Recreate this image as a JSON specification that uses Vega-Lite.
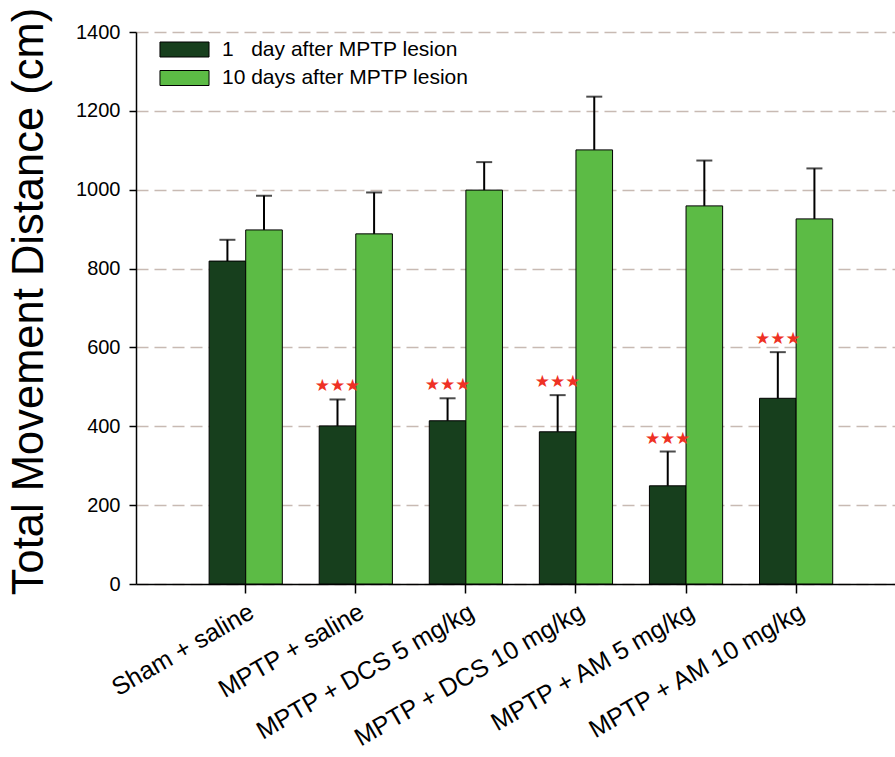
{
  "$schema": "https://vega.github.io/schema/vega-lite/v6.json",
  "width": 759,
  "height": 552,
  "autosize": {"type": "none"},
  "padding": {"left": 136, "top": 32, "right": 0, "bottom": 173},
  "background": "white",
  "config": {"view": {"stroke": null}, "font": "Liberation Sans"},
  "data": {
    "values": [
      {"group": "Sham + saline", "series": "1\u00a0\u00a0\u00a0day after MPTP lesion", "mean": 819, "hi": 873, "sig": ""},
      {"group": "Sham + saline", "series": "10 days after MPTP lesion", "mean": 898, "hi": 985, "sig": ""},
      {"group": "MPTP + saline", "series": "1\u00a0\u00a0\u00a0day after MPTP lesion", "mean": 401, "hi": 468, "sig": "★★★"},
      {"group": "MPTP + saline", "series": "10 days after MPTP lesion", "mean": 888, "hi": 993, "sig": ""},
      {"group": "MPTP + DCS 5 mg/kg", "series": "1\u00a0\u00a0\u00a0day after MPTP lesion", "mean": 414, "hi": 471, "sig": "★★★"},
      {"group": "MPTP + DCS 5 mg/kg", "series": "10 days after MPTP lesion", "mean": 999, "hi": 1070, "sig": ""},
      {"group": "MPTP + DCS 10 mg/kg", "series": "1\u00a0\u00a0\u00a0day after MPTP lesion", "mean": 386, "hi": 479, "sig": "★★★"},
      {"group": "MPTP + DCS 10 mg/kg", "series": "10 days after MPTP lesion", "mean": 1101, "hi": 1236, "sig": ""},
      {"group": "MPTP + AM 5 mg/kg", "series": "1\u00a0\u00a0\u00a0day after MPTP lesion", "mean": 249, "hi": 336, "sig": "★★★"},
      {"group": "MPTP + AM 5 mg/kg", "series": "10 days after MPTP lesion", "mean": 959, "hi": 1074, "sig": ""},
      {"group": "MPTP + AM 10 mg/kg", "series": "1\u00a0\u00a0\u00a0day after MPTP lesion", "mean": 471, "hi": 588, "sig": "★★★"},
      {"group": "MPTP + AM 10 mg/kg", "series": "10 days after MPTP lesion", "mean": 926, "hi": 1054, "sig": ""}
    ]
  },
  "encoding": {
    "x": {
      "field": "group",
      "type": "nominal",
      "scale": {
        "domain": ["Sham + saline", "MPTP + saline", "MPTP + DCS 5 mg/kg", "MPTP + DCS 10 mg/kg", "MPTP + AM 5 mg/kg", "MPTP + AM 10 mg/kg"],
        "paddingInner": 0.335,
        "paddingOuter": 0.615,
        "align": 0.54
      },
      "axis": {
        "title": null,
        "labelAngle": -30,
        "labelFontSize": 25,
        "labelColor": "black",
        "labelLimit": 400,
        "labelPadding": 6,
        "domainColor": "black",
        "domainWidth": 1.5,
        "tickColor": "black",
        "tickSize": 9,
        "tickWidth": 1.5
      }
    },
    "xOffset": {
      "field": "series",
      "type": "nominal",
      "scale": {"domain": ["1\u00a0\u00a0\u00a0day after MPTP lesion", "10 days after MPTP lesion"]}
    }
  },
  "layer": [
    {
      "mark": {"type": "bar", "stroke": "black", "strokeWidth": 1},
      "encoding": {
        "y": {
          "field": "mean",
          "type": "quantitative",
          "scale": {"domain": [0, 1400]},
          "axis": {
            "title": "Total Movement Distance (cm)",
            "titleFontSize": 43.5,
            "titleFontWeight": "normal",
            "titleColor": "black",
            "titlePadding": 24,
            "titleY": 269,
            "values": [0, 200, 400, 600, 800, 1000, 1200, 1400],
            "format": "d",
            "labelFontSize": 20,
            "labelColor": "black",
            "labelPadding": 9,
            "domainColor": "black",
            "domainWidth": 1.5,
            "tickColor": "black",
            "tickSize": 7,
            "tickWidth": 1.5,
            "grid": true,
            "gridColor": "#c8bab3",
            "gridWidth": 1.5,
            "gridDash": [12, 6]
          }
        },
        "color": {
          "field": "series",
          "type": "nominal",
          "scale": {
            "domain": ["1\u00a0\u00a0\u00a0day after MPTP lesion", "10 days after MPTP lesion"],
            "range": ["#173f1d", "#5cbb45"]
          },
          "legend": {
            "orient": "none",
            "legendX": 38,
            "legendY": 7,
            "title": null,
            "padding": 0,
            "symbolType": "M-3.27,-1H3.27V1H-3.27Z",
            "symbolSize": 225,
            "symbolStrokeColor": "black",
            "symbolStrokeWidth": 1,
            "symbolOpacity": 1,
            "labelFontSize": 21,
            "labelColor": "black",
            "labelOffset": 27,
            "labelLimit": 400,
            "rowPadding": 6.5
          }
        }
      }
    },
    {
      "mark": {"type": "rule", "color": "black", "strokeWidth": 2},
      "encoding": {
        "y": {"field": "mean", "type": "quantitative"},
        "y2": {"field": "hi"}
      }
    },
    {
      "mark": {"type": "tick", "color": "black", "thickness": 2, "size": 16},
      "encoding": {
        "y": {"field": "hi", "type": "quantitative"}
      }
    },
    {
      "transform": [{"filter": "datum.sig != ''"}],
      "mark": {"type": "text", "font": "DejaVu Sans", "fontSize": 17, "color": "#ee3124", "dy": -13, "baseline": "middle"},
      "encoding": {
        "y": {"field": "hi", "type": "quantitative"},
        "text": {"field": "sig"}
      }
    }
  ]
}
